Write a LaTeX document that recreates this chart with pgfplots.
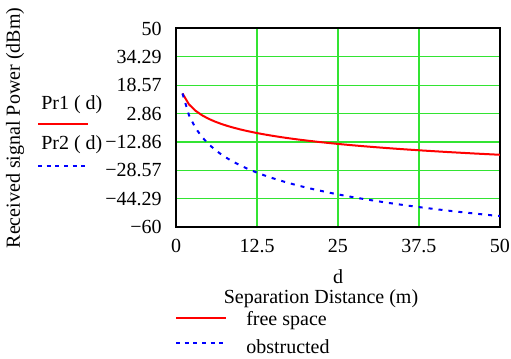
\documentclass[border=0pt]{standalone}
\usepackage{pgfplots}
\pgfplotsset{compat=1.18}
\usepackage{pgfplotstable}
\usepackage{fontspec}
\setmainfont{Liberation Serif}
\definecolor{gridgreen}{RGB}{50,228,50}
\pgfplotstableread{
d p1 p2
1 14.00 14.00
2 7.98 1.96
3 4.46 -5.08
4 1.96 -10.08
5 0.02 -13.96
6 -1.56 -17.13
7 -2.90 -19.80
8 -4.06 -22.12
9 -5.08 -24.17
10 -6.00 -26.00
11 -6.83 -27.66
12 -7.58 -29.17
13 -8.28 -30.56
14 -8.92 -31.85
15 -9.52 -33.04
16 -10.08 -34.16
17 -10.61 -35.22
18 -11.11 -36.21
19 -11.58 -37.15
20 -12.02 -38.04
21 -12.44 -38.89
22 -12.85 -39.70
23 -13.23 -40.47
24 -13.60 -41.21
25 -13.96 -41.92
26 -14.30 -42.60
27 -14.63 -43.25
28 -14.94 -43.89
29 -15.25 -44.50
30 -15.54 -45.08
31 -15.83 -45.65
32 -16.10 -46.21
33 -16.37 -46.74
34 -16.63 -47.26
35 -16.88 -47.76
36 -17.13 -48.25
37 -17.36 -48.73
38 -17.60 -49.19
39 -17.82 -49.64
40 -18.04 -50.08
41 -18.26 -50.51
42 -18.47 -50.93
43 -18.67 -51.34
44 -18.87 -51.74
45 -19.06 -52.13
46 -19.26 -52.51
47 -19.44 -52.88
48 -19.62 -53.25
49 -19.80 -53.61
50 -19.98 -53.96
}\data
\begin{document}
\begin{tikzpicture}
\begin{scope}[x=0.75pt,y=-0.75pt]
\path[use as bounding box] (0,0) rectangle (511,358);
\end{scope}
\begin{axis}[
  at={(132pt,-170.25pt)}, anchor=south west,
  scale only axis, width=243pt, height=148.875pt,
  xmin=0, xmax=50, ymin=-60, ymax=50,
  xtick={0,12.5,25,37.5,50},
  xticklabels={0,12.5,25,37.5,50},
  ytick={-60,-44.2857,-28.5714,-12.8571,2.8571,18.5714,34.2857,50},
  yticklabels={−60,−44.29,−28.57,−12.86,2.86,18.57,34.29,50},
  major tick length=0pt,
  grid=major,
  major grid style={gridgreen, line width=0.9pt},
  axis line style={black, line width=1.5pt},
  tick label style={font=\fontsize{15}{17}\selectfont, inner sep=0pt},
  yticklabel style={anchor=east, xshift=-10.5pt},
  xticklabel style={anchor=north, yshift=-9pt},
  /pgf/number format/assume math mode=true,
]
\addplot[red, line width=1.5pt] table[x=d, y=p1] {\data};
\addplot[blue, line width=1.5pt, dash pattern=on 3pt off 4.5pt] table[x=d, y=p2] {\data};
\end{axis}
\begin{scope}[x=0.75pt,y=-0.75pt, font=\fontsize{15}{17}\selectfont]
\node[rotate=90] at (15,128) {Received signal Power (dBm)};
\node[anchor=west, inner sep=0pt] at (41,105) {Pr1 ( d)};
\draw[red, line width=1.5pt] (38,124) -- (88,124);
\node[anchor=west, inner sep=0pt] at (41,145) {Pr2 ( d)};
\draw[blue, line width=1.5pt, dash pattern=on 3pt off 3.5pt] (38,165.5) -- (88,165.5);
\node at (338,277) {d};
\node at (321,299) {Separation Distance (m)};
\draw[red, line width=1.5pt] (176,318) -- (226,318);
\node[anchor=west, inner sep=0pt] at (246,321) {free space};
\draw[blue, line width=1.5pt, dash pattern=on 3pt off 3.5pt] (176,343) -- (226,343);
\node[anchor=west, inner sep=0pt] at (246,347) {obstructed};
\end{scope}
\end{tikzpicture}
\end{document}
